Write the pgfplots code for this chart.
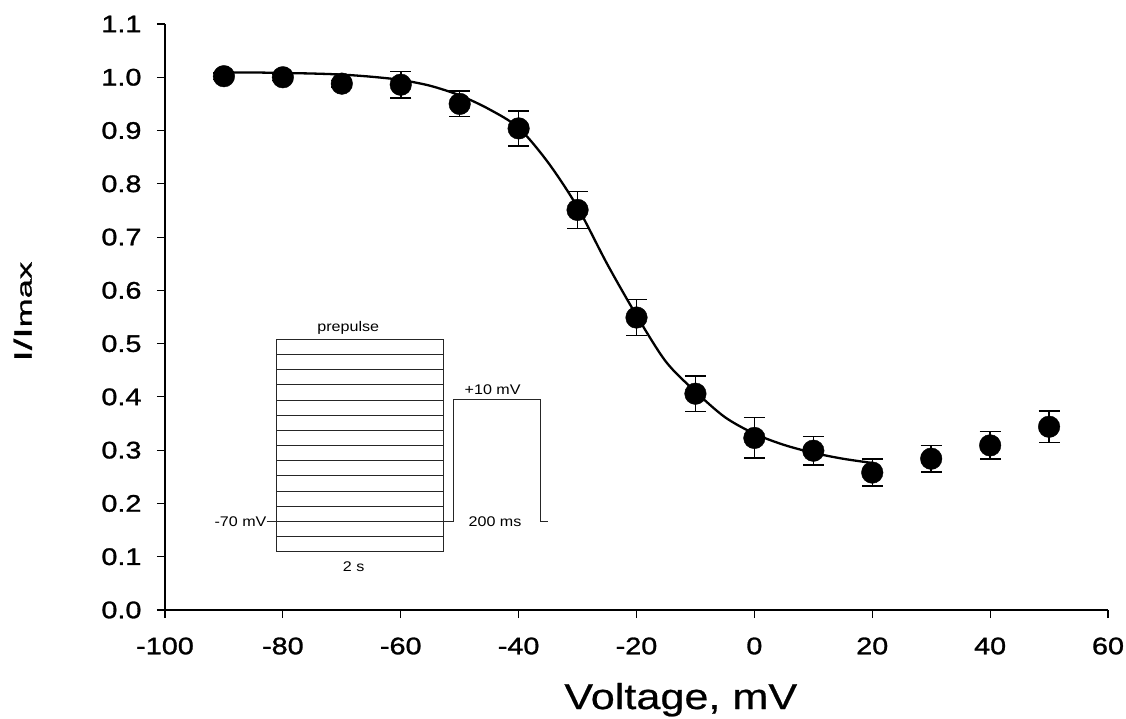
\documentclass[border=0pt]{standalone}
\usepackage{fontspec}
\setmainfont{Liberation Sans}[FakeStretch=1.15]
\newfontfamily\tickfont{Liberation Sans}[FakeStretch=1.2, FakeBold=1.2]
\newfontfamily\xlabfont{Liberation Sans}[FakeStretch=1.2, FakeBold=0.6]
\newfontfamily\ylabfont{Liberation Sans}[FakeStretch=1.65, FakeBold=1.2]
\usepackage{pgfplots}
\usepackage{pgfplotstable}
\pgfplotsset{compat=1.18}

\pgfplotstableread{
V I err
-90 1.002 0.006
-80 1.000 0.006
-70 0.988 0.006
-60 0.986 0.025
-50 0.950 0.024
-40 0.904 0.033
-30 0.751 0.035
-20 0.549 0.034
-10 0.406 0.033
0 0.323 0.038
10 0.299 0.027
20 0.258 0.025
30 0.284 0.025
40 0.309 0.026
50 0.344 0.030
}\datatable

\pgfplotstableread{
V I
-90 1.009
-85 1.009
-80 1.008
-75 1.007
-70 1.005
-65 1.001
-60 0.995
-55 0.984
-50 0.966
-45 0.940
-40 0.905
-35 0.840
-30 0.756
-25 0.650
-20 0.553
-15 0.466
-10 0.410
-5 0.362
0 0.331
5 0.310
10 0.295
15 0.284
20 0.276
}\fittable

\begin{document}
\begin{tikzpicture}
\useasboundingbox (-165pt,-109pt) rectangle (961pt,610pt);
\begin{axis}[
  at={(0,0)}, anchor=south west,
  scale only axis, width=943pt, height=586pt,
  xmin=-100, xmax=60, ymin=0, ymax=1.1,
  axis lines=left,
  axis line style={-, line width=1.4pt},
  xtick={-100,-80,-60,-40,-20,0,20,40,60},
  ytick={0,0.1,0.2,0.3,0.4,0.5,0.6,0.7,0.8,0.9,1.0,1.1},
  tick align=outside, major tick length=8pt,
  tick style={line width=1.1pt, black},
  /pgf/number format/assume math mode=true,
  yticklabel style={xshift=-12pt, /pgf/number format/fixed, /pgf/number format/fixed zerofill, /pgf/number format/precision=1},
  tick label style={font=\tickfont\fontsize{24}{26}\selectfont},
  xticklabel style={yshift=-16pt},
  xlabel={Voltage, mV},
  xlabel style={font=\xlabfont\fontsize{36}{40}\selectfont, at={(axis description cs:0.547,-0.169)}, anchor=base},
  ylabel={I/I{\fontsize{21}{24}\selectfont max}},
  ylabel style={font=\ylabfont\fontsize{25}{30}\selectfont, at={(axis description cs:-0.1414,0.509)}, anchor=base},
  clip=false,
]
\addplot[black, line width=2.3pt, smooth, no markers] table[x=V, y=I] {\fittable};
\addplot[black, only marks, mark=*, mark size=10.8pt,
  error bars/.cd, y dir=both, y explicit,
  error bar style={line width=1.5pt, black},
  error mark options={rotate=90, mark size=10.5pt, line width=1.5pt, black}]
  table[x=V, y=I, y error=err] {\datatable};
% inset: voltage protocol
\pgfplotsinvokeforeach{0,...,14}{
  \draw[line width=0.9pt, black!85] (axis cs:-81.05,{0.1094+#1*0.02846}) -- (axis cs:-52.78,{0.1094+#1*0.02846});
}
\draw[line width=0.9pt, black!85] (axis cs:-81.05,0.1094) -- (axis cs:-81.05,0.5078);
\draw[line width=0.9pt, black!85] (axis cs:-52.78,0.1094) -- (axis cs:-52.78,0.5078);
\draw[line width=0.9pt, black!85] (axis cs:-82.75,0.1663) -- (axis cs:-81.05,0.1663);
\draw[line width=0.9pt, black!85] (axis cs:-52.78,0.1663) -- (axis cs:-51.09,0.1663) -- (axis cs:-51.09,0.396) -- (axis cs:-36.26,0.396) -- (axis cs:-36.26,0.1663) -- (axis cs:-34.97,0.1663);
\node[font=\fontsize{14}{16}\selectfont, anchor=base] at (axis cs:-68.9,0.522) {prepulse};
\node[font=\fontsize{14}{16}\selectfont, anchor=base] at (axis cs:-44.4,0.404) {+10 mV};
\node[font=\fontsize{14}{16}\selectfont, anchor=base] at (axis cs:-44.0,0.156) {200 ms};
\node[font=\fontsize{14}{16}\selectfont, anchor=base] at (axis cs:-68.0,0.072) {2 s};
\node[font=\fontsize{14}{16}\selectfont, anchor=base east, inner sep=0pt] at (axis cs:-82.75,0.156) {-70 mV};
\end{axis}
\end{tikzpicture}
\end{document}
